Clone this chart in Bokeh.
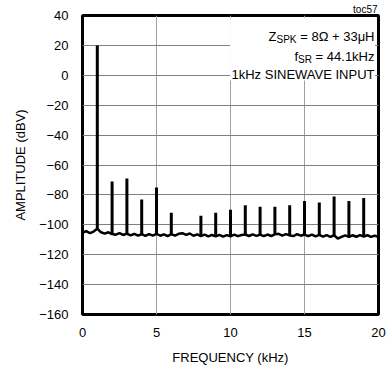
from bokeh.plotting import figure
from bokeh.models import Range1d, FixedTicker, Label
from bokeh.embed import file_html
from bokeh.resources import INLINE

# ---------------- data ----------------
noise_khz = [0.00, 0.25, 0.50, 0.75, 1.00, 1.25, 1.50, 1.75, 2.00, 2.25,
             2.50, 2.75, 3.00, 3.25, 3.50, 3.75, 4.00, 4.25, 4.50, 4.75,
             5.00, 5.25, 5.50, 5.75, 6.00, 6.25, 6.50, 6.75, 7.00, 7.25,
             7.50, 7.75, 8.00, 8.25, 8.50, 8.75, 9.00, 9.25, 9.50, 9.75,
             10.00, 10.25, 10.50, 10.75, 11.00, 11.25, 11.50, 11.75, 12.00, 12.25,
             12.50, 12.75, 13.00, 13.25, 13.50, 13.75, 14.00, 14.25, 14.50, 14.75,
             15.00, 15.25, 15.50, 15.75, 16.00, 16.25, 16.50, 16.75, 17.00, 17.25,
             17.50, 17.75, 18.00, 18.25, 18.50, 18.75, 19.00, 19.25, 19.50, 19.75,
             20.00]
noise_dbv = [-105.2, -104.3, -105.6, -104.5, -102.6, -105.0, -105.9, -105.0, -106.2, -106.6,
             -105.5, -106.8, -105.9, -107.1, -106.0, -107.3, -106.3, -107.4, -106.2, -107.2,
             -106.1, -107.3, -106.4, -107.5, -106.3, -107.2, -106.0, -105.6, -106.7, -105.8,
             -107.3, -106.4, -107.6, -106.6, -107.8, -106.8, -107.7, -106.7, -107.9, -106.9,
             -107.7, -106.6, -107.6, -106.8, -106.5, -107.5, -106.4, -107.4, -106.6, -107.6,
             -106.5, -107.5, -106.4, -106.0, -107.2, -106.2, -107.1, -107.5, -106.3, -107.3,
             -106.5, -107.6, -106.6, -107.8, -106.8, -107.9, -106.9, -108.1, -107.0, -109.2,
             -108.1, -107.1, -108.1, -107.0, -108.0, -106.9, -107.9, -107.0, -108.1, -107.2,
             -108.2]

harm_khz = [1, 2, 3, 4, 5, 6, 8, 9, 10, 11, 12, 13, 14, 15, 16, 17, 18, 19]
harm_dbv = [20, -71, -69, -83, -75, -92, -94, -92, -90, -87, -88, -88, -87, -84, -85, -81, -84, -82]

x_ticks = [0, 5, 10, 15, 20]
y_ticks = [40, 20, 0, -20, -40, -60, -80, -100, -120, -140, -160]

FONT = "Liberation Sans"

floor_lookup = dict(zip(noise_khz, noise_dbv))
harm_base = [floor_lookup[float(f)] for f in harm_khz]

p = figure(width=386, height=368, output_backend="svg", toolbar_location=None,
           x_range=Range1d(0, 20), y_range=Range1d(-160, 40),
           min_border_left=82, min_border_right=8, min_border_top=14, min_border_bottom=54)

p.background_fill_color = "white"
p.border_fill_color = "white"
p.outline_line_color = "black"
p.outline_line_width = 3

# small figure id at top right, as a title
p.title.text = "toc57"
p.title.align = "right"
p.title.text_font = FONT
p.title.text_font_size = "10px"
p.title.text_font_style = "normal"
p.title.text_color = "black"
p.title.standoff = 2
p.title.offset = 1

# grid
p.xgrid.ticker = FixedTicker(ticks=[5, 10, 15])
p.ygrid.ticker = FixedTicker(ticks=y_ticks)
p.xgrid.grid_line_color = "#a0a0a0"
p.ygrid.grid_line_color = "#808080"
p.xgrid.grid_line_width = 1
p.ygrid.grid_line_width = 1

# axes
for ax in (p.xaxis[0], p.yaxis[0]):
    ax.axis_line_color = None
    ax.major_tick_out = 0
    ax.major_tick_in = 0
    ax.minor_tick_line_color = None
    ax.major_label_text_font = FONT
    ax.major_label_text_font_size = "13px"
    ax.major_label_text_color = "black"
    ax.axis_label_text_font = FONT
    ax.axis_label_text_font_size = "13px"
    ax.axis_label_text_font_style = "normal"
    ax.axis_label_text_color = "black"

p.xaxis.ticker = FixedTicker(ticks=x_ticks)
p.yaxis.ticker = FixedTicker(ticks=y_ticks)
p.xaxis.axis_label = "FREQUENCY (kHz)"
p.yaxis.axis_label = "AMPLITUDE (dBV)"
p.xaxis.major_label_standoff = 13
p.xaxis.axis_label_standoff = 10
p.yaxis.major_label_standoff = 14
p.yaxis.axis_label_standoff = 8

# data
p.line(noise_khz, noise_dbv, line_color="black", line_width=2.5)
p.segment(x0=harm_khz, y0=harm_base, x1=harm_khz, y1=harm_dbv,
          line_color="black", line_width=3)

# white annotation box
p.quad(left=[9.97], right=[19.77], top=[38.5], bottom=[-3.5],
       fill_color="white", line_color=None)

XR = 19.73
def lab(text, y, xoff=0, yoff=0, size="13px", align="right"):
    p.add_layout(Label(x=XR, y=y, x_offset=xoff, y_offset=yoff, text=text,
                       text_align=align, text_baseline="alphabetic",
                       text_font=FONT, text_font_size=size, text_color="black"))

# line 1: Z_SPK = 8Ω + 33μH
lab("= 8\u03a9 + 33\u03bcH", 26.0)
lab("SPK", 26.0, xoff=-78, yoff=-3, size="10px")
lab("Z", 26.0, xoff=-98)
# line 2: f_SR = 44.1kHz
lab("= 44.1kHz", 12.5)
lab("SR", 12.5, xoff=-62.5, yoff=-3, size="10px")
lab("f", 12.5, xoff=-76.5)
# line 3
lab("1kHz SINEWAVE INPUT", 0.5)

open("out.html", "w").write(file_html(p, INLINE))
